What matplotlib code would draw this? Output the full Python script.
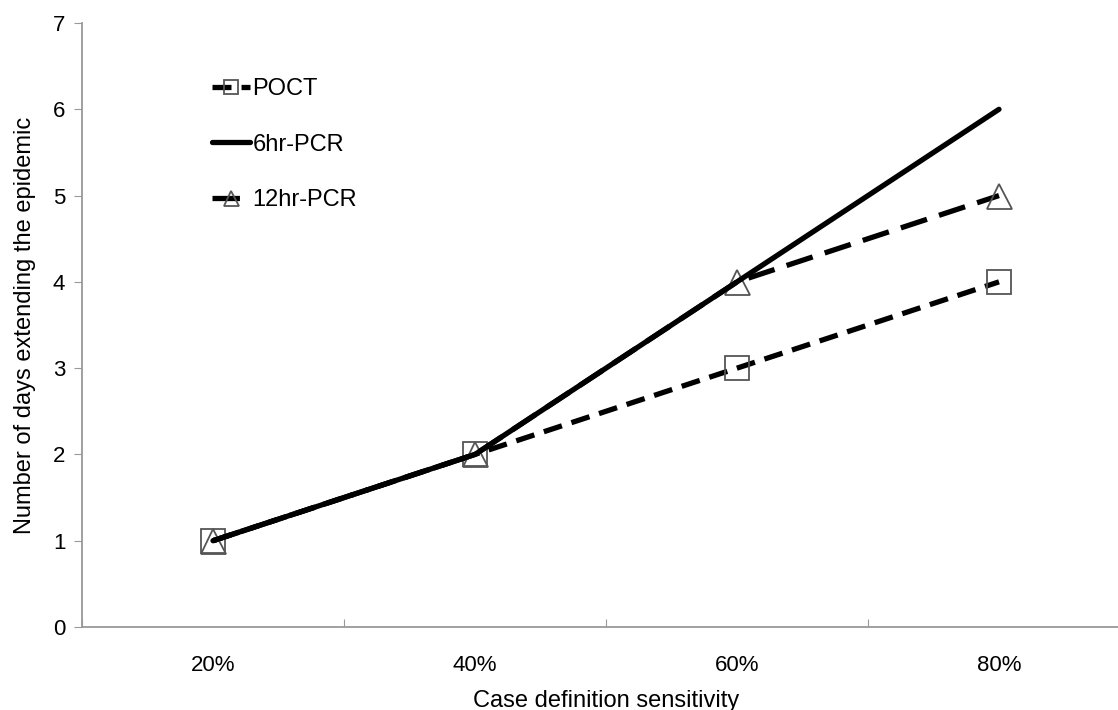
import matplotlib
matplotlib.use("Agg")
from matplotlib import pyplot as plt

categories = ["20%", "40%", "60%", "80%"]
poct = [1, 2, 3, 4]
pcr6 = [1, 2, 4, 6]
pcr12 = [1, 2, 4, 5]

plt.rcParams['font.family'] = ['Liberation Sans', 'DejaVu Sans']

fig = plt.figure(figsize=(11.18, 7.10), dpi=100)
ax = fig.add_axes([82 / 1118, 83 / 710, (1130 - 82) / 1118, (627 - 23) / 710])

x = list(range(len(categories)))
gray = "#999999"

ax.plot(x, poct, color="black", lw=3.8, dashes=(3.6, 1.9), label="POCT",
        marker="s", ms=17, mfc="none", mec="#555555", mew=1.3)
ax.plot(x, pcr12, color="black", lw=3.8, dashes=(5.2, 2.4), label="12hr-PCR",
        marker="^", ms=18, mfc="none", mec="#555555", mew=1.3)
ax.plot(x, pcr6, color="black", lw=3.8, solid_capstyle="round", label="6hr-PCR")

ax.set_xlim(-0.5, 3.5)
ax.set_ylim(0, 7)
ax.set_xticks([i + 0.5 for i in range(-1, 4)])
ax.set_xticklabels([])
ax.set_xticks(x, minor=True)
ax.set_xticklabels(categories, minor=True)
ax.tick_params(axis="x", which="major", length=6, color=gray, direction="in")
ax.tick_params(axis="x", which="minor", length=0, pad=20, labelsize=16)
ax.set_yticks(range(0, 8))
ax.tick_params(axis="y", length=6, color=gray, labelsize=16, pad=6)

for s in ["top", "right"]:
    ax.spines[s].set_visible(False)
for s in ["left", "bottom"]:
    ax.spines[s].set_color(gray)
    ax.spines[s].set_linewidth(1.3)

ax.set_xlabel("Case definition sensitivity", fontsize=17, labelpad=10)
ax.set_ylabel("Number of days extending the epidemic", fontsize=17, labelpad=12)

h, l = ax.get_legend_handles_labels()
order = [0, 2, 1]
leg = ax.legend([h[i] for i in order], [l[i] for i in order], loc="upper left",
                bbox_to_anchor=(0.104, 0.944), frameon=False, fontsize=17,
                handlelength=1.6, handletextpad=0.1, labelspacing=1.42, markerscale=0.6)

fig.savefig("out.png", dpi=100)
